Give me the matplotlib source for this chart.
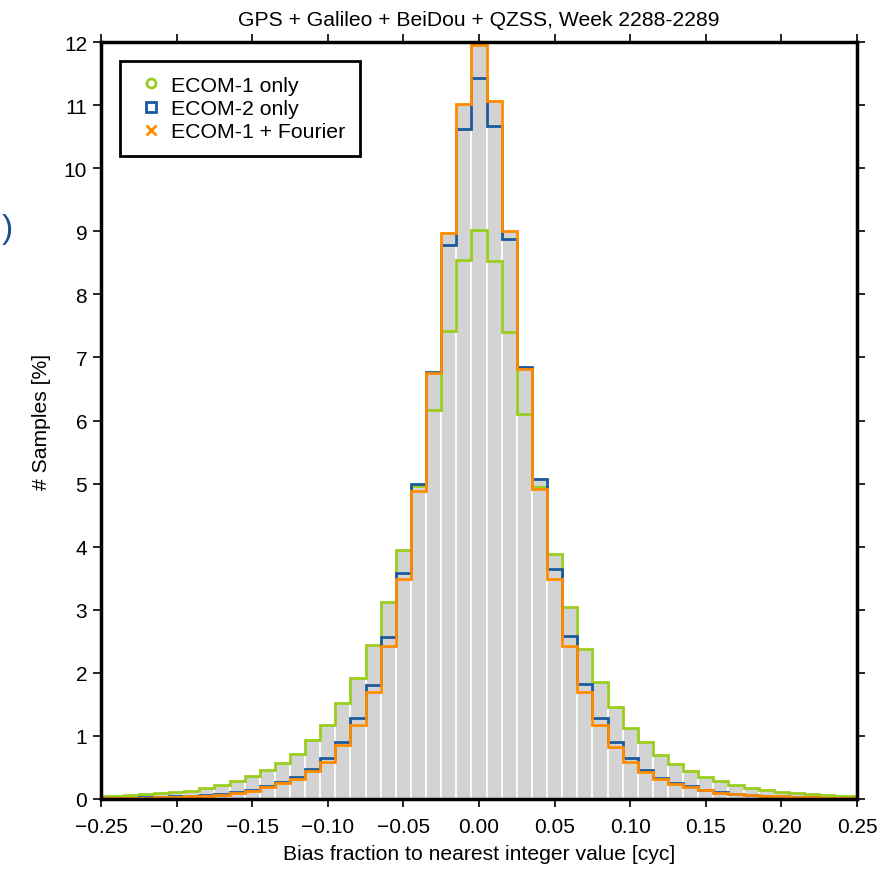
import numpy as np
import matplotlib
matplotlib.use('Agg')
import matplotlib.pyplot as plt
from matplotlib.lines import Line2D

plt.rcParams['font.family'] = ['Liberation Sans', 'DejaVu Sans']

# bin centres every 0.01 cyc from -0.25 to 0.25
bin_centers = np.round(np.arange(-25, 26) * 0.01, 2)
bin_edges = np.round(np.arange(-25.5, 26.0, 1.0) * 0.01, 3)

# percentage of samples per bin
ecom1 = [0.04, 0.05, 0.06, 0.075, 0.09, 0.11, 0.13, 0.18, 0.22, 0.28,
         0.36, 0.46, 0.57, 0.72, 0.94, 1.18, 1.52, 1.91, 2.44, 3.12,
         3.94, 4.96, 6.17, 7.42, 8.54, 9.02, 8.53, 7.41, 6.11, 4.95,
         3.89, 3.04, 2.38, 1.85, 1.46, 1.13, 0.90, 0.70, 0.56, 0.44,
         0.35, 0.28, 0.22, 0.18, 0.14, 0.11, 0.09, 0.075, 0.06, 0.05, 0.04]
ecom2 = [0.01, 0.015, 0.02, 0.025, 0.03, 0.04, 0.05, 0.06, 0.08, 0.11,
         0.15, 0.21, 0.27, 0.35, 0.48, 0.65, 0.91, 1.28, 1.81, 2.56,
         3.59, 5.00, 6.77, 8.78, 10.62, 11.43, 10.67, 8.87, 6.85, 5.07,
         3.64, 2.59, 1.83, 1.28, 0.91, 0.65, 0.46, 0.34, 0.25, 0.20,
         0.15, 0.11, 0.08, 0.065, 0.05, 0.04, 0.03, 0.025, 0.02, 0.015, 0.01]
ecom1_fourier = [0.01, 0.015, 0.02, 0.02, 0.03, 0.03, 0.04, 0.05, 0.07, 0.10,
                 0.13, 0.19, 0.25, 0.32, 0.44, 0.59, 0.85, 1.18, 1.70, 2.43,
                 3.48, 4.89, 6.76, 8.97, 11.02, 11.95, 11.07, 9.01, 6.82, 4.92,
                 3.49, 2.43, 1.70, 1.18, 0.83, 0.59, 0.42, 0.32, 0.23, 0.19,
                 0.14, 0.095, 0.075, 0.06, 0.05, 0.04, 0.03, 0.025, 0.02, 0.015, 0.01]

labels = ['ECOM-1 only', 'ECOM-2 only', 'ECOM-1 + Fourier']
colors = ['#9acd1e', '#1a5a9c', '#ff8c00']
markers = ['o', 's', 'x']
xticks = np.round(np.arange(-0.25, 0.26, 0.05), 2)

fig = plt.figure(figsize=(8.94, 8.70), dpi=100)
ax = fig.add_axes([0.113, 0.0805, 0.8456, 0.870])

# grey bars underneath (all three overlap, so the max shows)
for vals in [ecom1, ecom2, ecom1_fourier]:
    ax.bar(bin_centers, vals, width=0.01, color='#d3d3d3',
           edgecolor='white', linewidth=1.2, zorder=1)

for vals, c in zip([ecom1, ecom2, ecom1_fourier], colors):
    ax.stairs(vals, bin_edges, color=c, linewidth=2.0, zorder=3)

ax.set_xlim(-0.25, 0.25)
ax.set_ylim(0, 12)
ax.set_xticks(xticks)
ax.set_xticklabels([('%.2f' % abs(v)) if v >= 0 else '\u2212%.2f' % abs(v) for v in xticks])
ax.set_yticks(range(0, 13))

for s in ax.spines.values():
    s.set_linewidth(2.5)
    s.set_zorder(5)
ax.tick_params(direction='out', length=6, width=1.2, labelsize=15, pad=4,
               top=True, right=True, labeltop=False, labelright=False)
ax.tick_params(axis='x', pad=7)

ax.set_xlabel('Bias fraction to nearest integer value [cyc]', fontsize=15.2, labelpad=6)
ax.set_ylabel('# Samples [%]', fontsize=15.2, labelpad=9)
ax.set_title('GPS + Galileo + BeiDou + QZSS, Week 2288-2289', fontsize=15.2, pad=12)

handles = [Line2D([], [], linestyle='none', marker=m, color=c, markerfacecolor='none',
                  markersize=6.5, markeredgewidth=2)
           for m, c in zip(markers, colors)]
leg = ax.legend(handles, labels, loc='upper left', bbox_to_anchor=(0.025, 0.975),
                borderaxespad=0, fontsize=15.3, fancybox=False, framealpha=1,
                handlelength=1.5, handletextpad=0.2, labelspacing=0.2,
                borderpad=0.7)
leg.get_frame().set_edgecolor('black')
leg.get_frame().set_linewidth(2)
leg.set_zorder(10)

fig.text(0.002, 0.736, ')', fontsize=24, color='#1f4e8c', va='center', ha='left')

fig.savefig('out.png', dpi=100)
